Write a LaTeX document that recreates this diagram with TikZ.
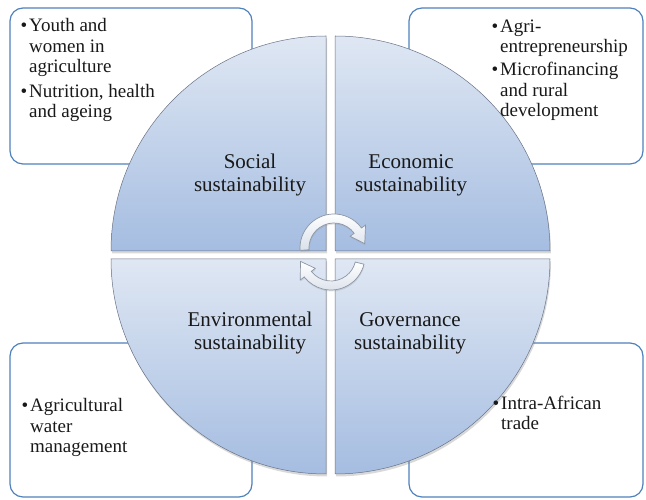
\documentclass[tikz,border=0pt]{standalone}
\usepackage{fontspec}
\setmainfont{Liberation Serif}
\usetikzlibrary{shadows}

\definecolor{boxline}{RGB}{79,129,189}
\definecolor{segtop}{RGB}{223,231,243}
\definecolor{segbot}{RGB}{165,189,225}
\definecolor{segline}{RGB}{105,115,135}
\definecolor{ink}{RGB}{25,25,25}
\definecolor{arrowline}{RGB}{140,150,165}
\definecolor{arrowfill}{RGB}{218,225,235}

\newcommand\bul{\llap{\textbullet\kern2pt}}

\tikzset{
  topic/.style={draw=boxline, line width=1.2pt, fill=white, rounded corners=13pt},
  segment/.style={draw=segline, line width=0.5pt, top color=segtop, bottom color=segbot,
    drop shadow={opacity=0.3, shadow xshift=1pt, shadow yshift=-2.5pt}},
  cycarrow/.style={draw=arrowline, line width=0.7pt, top color=white, bottom color=arrowfill,
    drop shadow={opacity=0.2, shadow xshift=0.5pt, shadow yshift=-1.5pt}},
  pillar/.style={font=\fontsize{21}{23}\selectfont, text=ink, align=center, inner sep=0pt, anchor=base},
  point/.style={font=\fontsize{19}{20.5}\selectfont, text=ink, align=left, inner sep=0pt, anchor=base west},
}

\begin{document}
\begin{tikzpicture}[x=1pt, y=1pt]
  \useasboundingbox (0,0) rectangle (646,500);

  % outer topic boxes
  \draw[topic] (10,492) rectangle (252,336);
  \draw[topic] (409,492) rectangle (643,336);
  \draw[topic] (10,157) rectangle (252,3);
  \draw[topic] (409,157) rectangle (643,3);

  % four quarter segments of the circle
  \path[segment] (326,249) -- (111,249) arc (180:90:215) -- cycle;
  \path[segment] (335,249) -- (335,464) arc (90:0:215) -- cycle;
  \path[segment] (326,241) -- (326,26) arc (270:180:215) -- cycle;
  \path[segment] (335,241) -- (550,241) arc (0:-90:215) -- cycle;

  % circular arrows in the middle
  \draw[cycarrow, shift={(334,252)}]
    (184:34) arc (184:36:34) -- (36:39) -- (8:31) -- (36:20) -- (36:25) arc (36:184:25) -- cycle;
  \draw[cycarrow, shift={(331,244)}]
    (-14:34) arc (-14:-142:34) -- (-142:39) -- (-170:31) -- (-142:20) -- (-142:25) arc (-142:-14:25) -- cycle;

  % segment titles
  \node[pillar] (social) at (250,308) {Social\\sustainability};
  \node[pillar] (economic) at (411,308) {Economic\\sustainability};
  \node[pillar] (environmental) at (250,150) {Environmental\\sustainability};
  \node[pillar] (governance) at (410,150) {Governance\\sustainability};

  % bullet lists
  \node[point] (tl1) at (29,427) {\bul Youth and\\women in\\agriculture};
  \node[point] (tl2) at (29,382) {\bul Nutrition, health\\and ageing};
  \node[point] (tr1) at (500,447) {\bul Agri-\\entrepreneurship};
  \node[point] (tr2) at (500,383) {\bul Microfinancing\\and rural\\development};
  \node[point] (bl1) at (30,47) {\bul Agricultural\\water\\management};
  \node[point] (br1) at (501,70) {\bul Intra-African\\trade};
\end{tikzpicture}
\end{document}
